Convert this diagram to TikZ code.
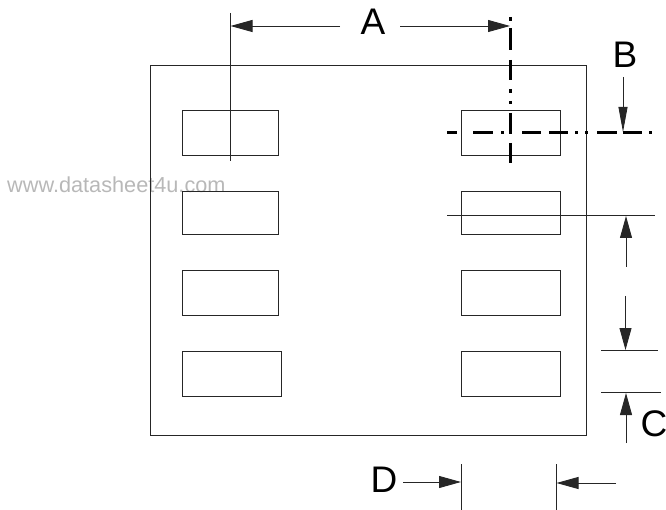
\documentclass[tikz,border=0pt]{standalone}
\usepackage{fontspec}
\setmainfont{Liberation Sans}
\usetikzlibrary{arrows.meta}
\tikzset{
  x=1pt,y=-1pt,
  thin line/.style={line width=0.9pt,draw=black!85},
  box/.style={thin line,rectangle,inner sep=0pt,outer sep=0pt,anchor=north west},
  pad/.style={box,minimum width=#1},
  dimarrow/.style={thin line,-{Triangle[length=22pt,width=12pt]}},
  label/.style={inner sep=0pt,font=\fontsize{37}{37}\selectfont},
  centre/.style={line width=3pt,draw=black}
}
\begin{document}
\begin{tikzpicture}
\useasboundingbox (0,0) rectangle (666,510);
\node[inner sep=0pt,anchor=west,text=black!28,font=\fontsize{21.7}{22}\selectfont] (wm) at (7,185) {www.datasheet4u.com};
\node[box,minimum width=436pt,minimum height=370pt] (pkg) at (150.5,65) {};
% pads
\node[pad=96pt,minimum height=45pt] (l1) at (182,110.5) {};
\node[pad=96pt,minimum height=42.5pt] (l2) at (182,191.5) {};
\node[pad=96pt,minimum height=45pt] (l3) at (182,270) {};
\node[pad=99pt,minimum height=45.5pt] (l4) at (182,351) {};
\node[pad=99pt,minimum height=45pt] (r1) at (461,110.5) {};
\node[pad=99pt,minimum height=42.5pt] (r2) at (461,191.5) {};
\node[pad=99pt,minimum height=45pt] (r3) at (461,270) {};
\node[pad=99pt,minimum height=45.5pt] (r4) at (461,351) {};
% labels
\node[label] (A) at (373,22) {A};
\node[label] (B) at (625,55) {B};
\node[label] (C) at (654,424) {C};
\node[label] (D) at (384,480) {D};
% free ends
\coordinate (extAt) at (230.5,13);
\coordinate (extAb) at (230.5,161);
\coordinate (Al) at (340,26);
\coordinate (Alt) at (230.5,26);
\coordinate (Ar) at (400,26);
\coordinate (Art) at (510,26);
\coordinate (Bs) at (623,77);
\coordinate (Bt) at (623,132);
\coordinate (h1l) at (447,215);
\coordinate (h1r) at (655,215);
\coordinate (h2l) at (601,350.5);
\coordinate (h2r) at (658,350.5);
\coordinate (h3l) at (601,392.5);
\coordinate (h3r) at (661,392.5);
\coordinate (u1s) at (626,267);
\coordinate (u1t) at (626,216);
\coordinate (d1s) at (625.5,296);
\coordinate (d1t) at (625.5,350);
\coordinate (u2s) at (626,443);
\coordinate (u2t) at (626,393);
\coordinate (v1t) at (461,464);
\coordinate (v1b) at (461,510);
\coordinate (v2t) at (556.5,464);
\coordinate (v2b) at (556.5,510);
\coordinate (Ds) at (403,482);
\coordinate (Dt) at (461,482);
\coordinate (Es) at (616,483);
\coordinate (Et) at (556.5,483);
% extension lines
\draw[thin line] (extAt) -- (extAb);
\draw[thin line] (h1l) -- (h1r);
\draw[thin line] (h2l) -- (h2r);
\draw[thin line] (h3l) -- (h3r);
\draw[thin line] (v1t) -- (v1b);
\draw[thin line] (v2t) -- (v2b);
% centre lines
\foreach \a/\b in {17/21,28/50,60/80,89/93,101/104,113/133,143/163}
  \draw[centre] (510.5,\a) -- (510.5,\b);
\foreach \a/\b in {447/457,473/493,501/504,509/512,522/541,549/568,575/578,585/588,597/617,623/642,649/652}
  \draw[centre] (\a,132.5) -- (\b,132.5);
% dimension arrows
\draw[dimarrow] (Al) -- (Alt);
\draw[dimarrow] (Ar) -- (Art);
\draw[thin line,-{Triangle[length=25pt,width=9pt]}] (Bs) -- (Bt);
\draw[dimarrow] (u1s) -- (u1t);
\draw[dimarrow] (d1s) -- (d1t);
\draw[dimarrow] (u2s) -- (u2t);
\draw[dimarrow] (Ds) -- (Dt);
\draw[dimarrow] (Es) -- (Et);
\end{tikzpicture}
\end{document}
